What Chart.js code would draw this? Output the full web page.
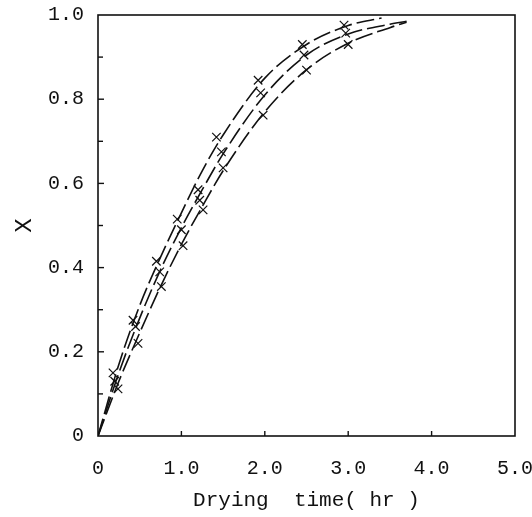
<!DOCTYPE html>
<html lang="en">
<head>
  <meta charset="UTF-8" />
  <title>Drying curves</title>
  <script src="https://cdn.jsdelivr.net/npm/chart.js"></script>
  <style>
    html, body { margin: 0; padding: 0; background: #fff; }
    #wrap { width: 532px; height: 517px; }
  </style>
</head>
<body>
  <div id="wrap"><canvas id="chartDrying" width="532" height="517"></canvas></div>

  <script>
    // Fitted curves
    const curveTopT = [0, 0.25, 0.5, 0.75, 1.0, 1.25, 1.5, 2.0, 2.5, 3.0, 3.4];
    const curveTopX = [0, 0.17, 0.31, 0.425, 0.53, 0.63, 0.715, 0.85, 0.93, 0.975, 0.993];
    const curveMidT = [0, 0.25, 0.5, 0.75, 1.0, 1.25, 1.5, 2.0, 2.5, 3.0, 3.5, 3.7];
    const curveMidX = [0, 0.15, 0.28, 0.395, 0.495, 0.585, 0.67, 0.81, 0.905, 0.955, 0.978, 0.985];
    const curveLowT = [0, 0.25, 0.5, 0.75, 1.0, 1.25, 1.5, 2.0, 2.5, 3.0, 3.5, 3.7];
    const curveLowX = [0, 0.13, 0.245, 0.355, 0.455, 0.545, 0.63, 0.77, 0.87, 0.933, 0.97, 0.983];

    // Measured points
    const ptsTopT = [0.18, 0.42, 0.7, 0.95, 1.2, 1.42, 1.92, 2.45, 2.95];
    const ptsTopX = [0.15, 0.275, 0.415, 0.515, 0.585, 0.71, 0.845, 0.93, 0.976];
    const ptsMidT = [0.2, 0.45, 0.74, 1.0, 1.22, 1.48, 1.95, 2.47, 2.97];
    const ptsMidX = [0.13, 0.26, 0.39, 0.49, 0.56, 0.675, 0.815, 0.905, 0.957];
    const ptsLowT = [0.24, 0.48, 0.76, 1.02, 1.26, 1.5, 1.98, 2.5, 3.0];
    const ptsLowX = [0.112, 0.22, 0.355, 0.452, 0.537, 0.637, 0.762, 0.869, 0.93];

    const xTickLabels = ['0', '1.0', '2.0', '3.0', '4.0', '5.0'];
    const yTickLabels = ['0', '0.2', '0.4', '0.6', '0.8', '1.0'];

    const toXY = (ts, xs) => ts.map((t, i) => ({ x: t, y: xs[i] }));
    const FONT = '"Liberation Mono", "DejaVu Sans Mono", monospace';

    function curve(ts, xs) {
      return {
        type: 'line',
        data: toXY(ts, xs),
        borderColor: '#111',
        borderWidth: 1.6,
        borderDash: [18, 5],
        pointRadius: 0,
        fill: false,
        cubicInterpolationMode: 'monotone'
      };
    }
    function marks(ts, xs) {
      return {
        type: 'scatter',
        data: toXY(ts, xs),
        pointStyle: 'crossRot',
        pointRadius: 6,
        borderColor: '#111',
        borderWidth: 1.2,
        showLine: false
      };
    }

    // frame + inward tick marks
    const frameTicks = {
      id: 'frameTicks',
      afterDraw(chart) {
        const { ctx, chartArea: a, scales } = chart;
        ctx.save();
        ctx.strokeStyle = '#111';
        ctx.lineWidth = 1.6;
        ctx.strokeRect(a.left, a.top, a.right - a.left, a.bottom - a.top);
        ctx.lineWidth = 1.4;
        for (let i = 1; i < 10; i++) {
          const y = scales.y.getPixelForValue(i / 10);
          ctx.beginPath();
          ctx.moveTo(a.left, y);
          ctx.lineTo(a.left + (i % 2 === 0 ? 6 : 5), y);
          ctx.stroke();
        }
        for (let i = 1; i < 5; i++) {
          const x = scales.x.getPixelForValue(i);
          ctx.beginPath();
          ctx.moveTo(x, a.bottom);
          ctx.lineTo(x, a.bottom - 5);
          ctx.stroke();
        }
        ctx.restore();
      }
    };

    new Chart(document.getElementById('chartDrying'), {
      data: {
        datasets: [
          curve(curveTopT, curveTopX),
          curve(curveMidT, curveMidX),
          curve(curveLowT, curveLowX),
          marks(ptsTopT, ptsTopX),
          marks(ptsMidT, ptsMidX),
          marks(ptsLowT, ptsLowX)
        ]
      },
      options: {
        responsive: false,
        animation: false,
        layout: { padding: { top: 15, right: 17, left: 0, bottom: 0 } },
        plugins: { legend: { display: false }, tooltip: { enabled: false } },
        scales: {
          x: {
            type: 'linear',
            min: 0, max: 5,
            grid: { display: false },
            border: { display: false },
            afterFit: (s) => { s.height = 81; s.paddingLeft = 0; s.paddingRight = 0; },
            ticks: {
              stepSize: 1,
              color: '#111',
              padding: 13,
              maxRotation: 0,
              font: { family: FONT, size: 20 },
              callback: (v) => xTickLabels[Math.round(v)]
            },
            title: {
              display: true,
              text: 'Drying  time( hr )',
              color: '#111',
              padding: { top: 2 },
              font: { family: FONT, size: 21 }
            }
          },
          y: {
            min: 0, max: 1,
            grid: { display: false },
            border: { display: false },
            afterFit: (s) => { s.width = 98; s.paddingTop = 0; s.paddingBottom = 0; },
            ticks: {
              stepSize: 0.1,
              autoSkip: false,
              color: '#111',
              padding: 6,
              font: { family: FONT, size: 20 },
              callback: (v) => {
                const k = Math.round(v * 10);
                return k % 2 === 0 ? yTickLabels[k / 2] : '';
              }
            },
            title: {
              display: true,
              text: 'X',
              color: '#111',
              padding: { top: 10, bottom: 0 },
              font: { family: FONT, size: 24 }
            }
          }
        }
      },
      plugins: [frameTicks]
    });
  </script>
</body>
</html>
